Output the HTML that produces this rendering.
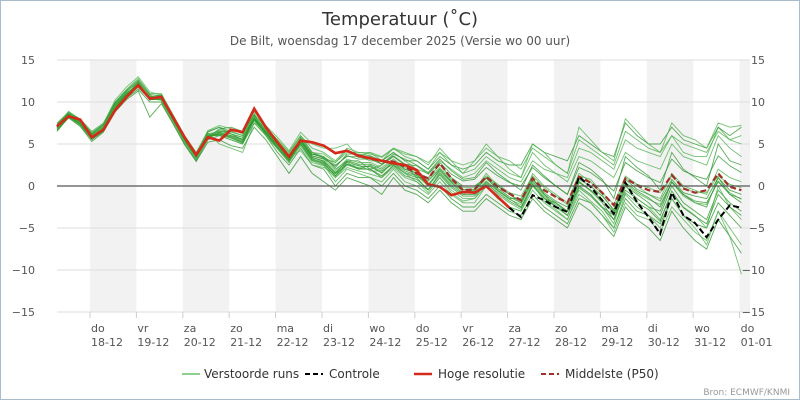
<!DOCTYPE html>
<html><head><meta charset="utf-8"><style>
body{margin:0;background:#fff}
svg{display:block;font-family:"DejaVu Sans","Liberation Sans",sans-serif}
</style></head><body>
<svg id="chart" width="800" height="400" viewBox="0 0 800 400">
<rect x="0.5" y="0.5" width="799" height="399" fill="#fff" stroke="#a9bccb"/>
<text x="400" y="25" text-anchor="middle" font-size="18" fill="#333">Temperatuur (˚C)</text>
<text x="400" y="45" text-anchor="middle" font-size="12" fill="#555">De Bilt, woensdag 17 december 2025 (Versie wo 00 uur)</text>
<g id="bands"></g><g id="grid"></g><g id="members"></g><g id="mainlines"></g><g id="axes"></g>
<g font-size="12" fill="#333">
<g><line x1="182" y1="374" x2="200" y2="374" stroke="#8fcf8f" stroke-width="2"/><text x="204" y="378">Verstoorde runs</text></g>
<g><line x1="305" y1="374" x2="323" y2="374" stroke="#000" stroke-width="2" stroke-dasharray="5,3"/><text x="329" y="378">Controle</text></g>
<g><line x1="414" y1="374" x2="432" y2="374" stroke="#d42a1a" stroke-width="2.5"/><text x="438" y="378">Hoge resolutie</text></g>
<g><line x1="541" y1="374" x2="559" y2="374" stroke="#a0302a" stroke-width="2" stroke-dasharray="5,3"/><text x="565" y="378">Middelste (P50)</text></g>
</g>
<text x="790" y="395" text-anchor="end" font-size="9" fill="#999">Bron: ECMWF/KNMI</text>
</svg>
<script>
const dayNames=["do","vr","za","zo","ma","di","wo","do","vr","za","zo","ma","di","wo","do"];
const dayDates=["18-12","19-12","20-12","21-12","22-12","23-12","24-12","25-12","26-12","27-12","28-12","29-12","30-12","31-12","01-01"];
const yTicks=[-15,-10,-5,0,5,10,15];
const hires=[7.1,8.3,7.9,5.8,6.7,9.0,10.6,12.0,10.4,10.6,8.2,5.8,3.7,5.8,5.4,6.7,6.4,9.2,7.0,5.2,3.5,5.4,5.2,4.8,3.9,4.2,3.6,3.3,3.0,2.7,2.5,1.9,0.2,-0.1,-1.1,-0.7,-0.8,0.0,-1.3,-2.6];
const control=[null,null,null,null,null,null,null,null,null,null,null,null,null,null,null,null,null,null,null,null,null,null,null,null,null,null,null,null,null,null,null,null,null,null,null,null,null,null,null,-2.6,-3.7,-1.1,-1.7,-2.5,-3.1,1.1,-0.1,-1.7,-3.3,0.4,-1.9,-3.7,-5.7,-0.8,-3.5,-4.4,-6.1,-4.0,-2.3,-2.6];
const median=[7.1,8.3,7.9,5.8,6.7,9.0,10.6,12.0,10.4,10.6,8.2,5.8,3.7,5.8,5.4,6.7,6.4,9.2,7.0,5.2,3.5,5.4,5.2,4.8,3.9,4.2,3.6,3.3,3.0,2.9,2.3,1.5,0.9,2.7,0.9,-0.5,-0.4,1.1,-0.1,-0.9,-1.7,0.9,-0.5,-1.3,-2.0,1.1,0.4,-0.8,-2.3,0.9,0.1,-0.5,-0.7,1.3,-0.3,-0.8,-0.5,1.5,-0.1,-0.5];
const m1=[7.5,8.8,8,6.5,7.5,10,11.5,12.8,11,11,8.5,6,4,6.5,7,6.5,6,8.5,7,5.5,4,6,4.5,4,3,4.5,4,4,3.5,4.5,3.5,3,2,4,2.5,1.5,2,3.5,2.5,1.5,1,4,2.5,1.5,1,4.5,4,3,2,5.5,4.5,4,3.5,6,4,3.5,3.5,7,5.5,6];
const m2=[6.5,8.2,7.2,5.5,6.5,9,10.5,11.5,10,10,7.5,5,3,5.5,6,5.5,5,7.5,6,4,2.5,4.5,2.5,2,0,1.5,1,1,0,1.5,0,-0.5,-1.5,0,-1.5,-2.5,-2.5,-1,-2,-3,-3.5,-1,-2.5,-3.5,-4.5,-1.5,-2,-3.5,-5,-1.5,-3,-3.5,-4.5,-1.5,-3.5,-4.5,-5,-2,-3.5,-5];
const m3=[7,8.5,7.5,6,7,9.5,11,12,10.5,10.5,8,5.5,3.5,6,6,5.5,5,8.5,6.5,5,3,5,3,2.5,1,2.5,2,2.5,1.5,3,2,1.5,0,2,0.5,-1,-0.5,1.5,0,-1,-2,1.5,0,-1,-2,1.5,0.5,-1,-3,1,0,-1,-1.5,1.5,0,-0.5,-1,2,1,0.5];
const m4=[6.8,8.3,7.6,6.2,7.2,9.8,11.3,12.3,10.8,10.2,7.8,5.2,3.2,5.8,6.8,7,6.5,8.5,6,4.5,2.8,5.2,3.8,3.5,2,3,3,2,2.5,3.5,2.5,1,1,2.5,1,0,0,1,-0.5,-1.5,-1.5,1,-1,-2.5,-3,0.5,-0.5,-2,-4,0,-1,-2,-3.5,0,-2,-3,-4,-0.5,-2,-3];
const m5=[7.2,8.6,7.8,5.8,6.8,9.3,10.8,12.2,10.6,10.8,8.2,5.8,3.8,6.2,6.5,6.5,6,8,7,5.5,4,6,4,3.5,2.5,3.5,3.5,3,3,4,3,2,1.5,3,2,1,1.5,3,2,1,0.5,3,2,1.5,0.5,3.5,3,2,1,4,3,2.5,2,5,3.5,3,2.5,6,4.5,3.5];
const m6=[7,8.4,7.4,5.9,6.9,9.5,11,11.8,10.4,10.4,8,5.6,3.6,5.8,6.2,5.8,5.2,7.8,6.3,4.8,3.3,5,3.2,2.8,1.2,2.8,2,2,1,2.5,1.5,1,-0.5,1.5,0,-1,-1,0.5,-0.5,-1.5,-2.5,0,-1.5,-2,-3,0,-1,-2.5,-3.5,-0.5,-1.5,-2.5,-3,0.5,-1,-2,-2.5,1,-1,-2];
const m7=[7.4,8.7,7.7,6.3,7.3,9.6,11.2,12.5,10.7,10.6,8.1,5.7,3.7,6.3,5,4.5,4,7.5,6.8,5.2,3.6,5.6,3.6,3.2,1.8,3.2,2.8,2.8,2.2,3.2,2.2,1.8,0.8,2.2,0.8,-0.2,-0.2,1.2,0.2,-0.8,-1.2,1.2,-0.2,-1.2,-2.2,1.2,0.8,-0.8,-2.2,1.2,0.2,-0.2,-0.8,1.2,-0.2,-0.8,-0.8,1.2,0.2,-0.2];
const m8=[7.1,8.5,7.5,6.1,7,9.4,10.9,12.1,10.5,10.5,8,5.5,3.5,6,6.6,6.2,5.8,8.2,6.6,5.1,3.6,5.6,3.8,3.4,2.2,3.8,3.8,3.6,3,4,3,3,2,3.5,2.5,2,2.5,4,3,2.5,2.5,5,4,3.5,3,6,5,4,3.5,7.5,6,5,5,7,5.5,5,4.5,7,6,7];
const m9=[6.9,8.3,7.3,5.7,6.7,9.2,10.7,11.7,10.3,10.3,7.7,5.3,3.3,5.7,6.3,6,5.5,8,6.2,4.7,3,5,3,2.5,0.5,2,1.5,1,0.5,2,0.5,0,-1,0.5,-1,-2,-2,0,-1.5,-2.5,-3,-0.5,-2,-3,-4,-1,-2,-3.5,-5.5,-2,-3.5,-4,-5.5,-2.5,-4,-5.5,-6.5,-3,-5,-7];
const m10=[7,8.6,7.6,6,7,9.7,11.1,12,10.6,10.6,8.1,5.6,3.6,6.1,6.4,6,5.6,8.1,6.6,5,3.4,5.4,3.4,3,1.6,3,2.6,2.6,2,3,2,1.6,0.6,2,0.6,-0.4,-0.4,1,0,-1,-1.8,0.8,-0.8,-1.8,-2.5,0.8,0,-1.2,-2.8,0.8,-0.4,-1,-1.8,0.8,-0.8,-1.2,-1.5,1,-0.5,-1];
const m11=[7.3,8.4,7.4,6,7.1,9.4,11,12.2,10.4,10.2,8.3,5.9,3.9,5.6,6.8,6.2,5.8,8.6,6.9,5.3,3.5,5.3,3.3,2.6,1.4,2.6,2.2,2.4,1.8,2.6,1.6,1.2,0,1.6,0.2,-0.8,-0.8,0.6,-0.6,-1.6,-2.2,0.4,-1.2,-2.2,-3,0.6,-0.6,-1.8,-3,0.2,-0.8,-1.6,-2.2,0.4,-1.2,-2,-2.2,0.6,-0.8,-1.6];
const m12=[6.7,8.2,7.4,5.6,6.6,9.3,10.8,12.4,10.2,10.9,7.9,5.4,3.4,5.9,6.4,6.6,6.4,8.4,6.4,4.9,3.2,5.4,3.6,3.2,2.4,3.6,3.2,3.2,2.6,3.6,2.6,2.4,1.4,2.8,1.4,0.6,0.8,2.2,1.2,0.4,0,2.2,1,0,-1,2.2,1.6,0.6,-0.6,2.8,1.8,1,0.4,3.2,1.8,1.2,0.8,3.6,2.4,1.6];
const m13=[7.2,8.9,7.9,6.4,7.4,10.2,11.8,13,11.2,10.8,8.4,6,3.9,6.6,7.2,6.8,6.2,8.8,7.2,5.8,4.2,6.4,5,4.5,4.5,5,3.5,4,3,4.5,4,3.5,2.5,4.5,3,1.5,3,5,3.5,2,1,5,4,2.5,1.5,7,5.5,4,3,8,6.5,5,4,7.5,6,5.5,4.5,7.5,7,7.2];
const m14=[6.6,8.1,7.1,5.3,6.4,8.8,10.3,11.3,8.2,9.8,7.4,4.9,2.9,5.2,5.5,4.8,4.5,7,5.5,3.5,1.5,3.5,1.5,0.5,-0.5,1,0.5,0,-1,1,-0.5,-1,-2,-0.5,-2,-3,-3,-1.5,-2.5,-3.5,-4,-1.5,-3,-4,-5,-2,-3,-4.5,-6,-2.5,-4,-5,-6.5,-3,-5,-6.5,-7.5,-4,-6,-8];
const m15=[7,8.6,7.7,6.1,7,9.6,11,12.2,10.3,10.5,8,5.6,3.4,6.2,6,6.8,6.3,8.3,6.5,5,3.4,4.2,2.5,2.2,1.5,2.5,2.5,1.8,1.8,2.8,1.5,0.5,-0.5,1,-0.5,-1.5,-1.5,0,-1.5,-2.5,-3,0,-1.5,-2.5,-3.5,0,-1,-2.5,-4.5,0,-1.5,-2.5,-4,-1,-2.5,-3.5,-5,0,-2.5,-4];
const m16=[7.3,8.7,7.9,6.2,7.3,9.9,11.4,12.6,10.9,10.7,8.2,5.7,3.6,6.4,7,6.2,5.5,8,6.4,4.6,3,5.8,4,3.3,2.8,4.3,3.4,3.5,2.6,3.8,3.2,2.5,1.6,3.2,1.8,0.8,1,2.8,1.5,0.5,-0.5,2.5,1.2,0,-1,2.8,2,0.8,-1.5,3.5,2.2,1.2,-0.5,4,2,1,0,5,3,2.5];
const m17=[6.8,8.3,7.5,5.9,6.9,9.4,10.9,11.9,10.4,10.4,7.9,5.3,3.2,5.7,6.3,6,5.4,7.8,6,4.4,2.8,4.8,2.8,2.4,1,2.2,1.8,1.4,1,2.2,1,0.5,-0.8,1,-0.8,-1.8,-1.5,0.5,-1,-2,-2.8,0.2,-1.8,-2.8,-4,-0.5,-1.8,-3,-5,-1,-2.5,-3.5,-5,-1.5,-3.5,-5,-7,-3,-6,-10.5];
const m18=[7.1,8.5,7.6,6,7,9.5,11,12.1,10.5,10.5,8.1,5.6,3.6,6,6.2,5.9,5.3,8,6.4,4.9,3.3,5.2,3.4,2.9,1.5,2.9,2.4,2.3,1.6,2.8,1.8,1.3,0.2,1.8,0.4,-0.6,-0.6,0.9,-0.3,-1.3,-2,0.6,-1,-2,-3,0.4,-0.5,-1.6,-3.3,0.4,-0.6,-1.4,-2.5,0.5,-1,-1.8,-2,0.5,-1,-1.5];
const m19=[7,8.4,7.5,6,7,9.4,10.9,12,10.4,10.5,8,5.6,3.6,6,6.5,6.4,6,8.3,6.8,5.3,3.8,5.8,4,3.8,2.8,4,4,3.8,3.4,4.4,3.8,3.5,2.8,4,3,2.5,3,4.5,3.5,3,2,4.5,3.5,2.5,1.5,5.5,4.5,3.5,2.5,6.5,5.5,4.5,4,6,5,4.5,4,6.5,5.5,5];
const m20=[6.9,8.4,7.4,5.8,6.8,9.3,10.9,12,10.3,10.3,7.9,5.5,3.5,5.9,6.1,5.7,5.1,7.9,6.2,4.6,3.1,5,3.1,2.7,1.2,2.6,2.1,2,1.2,2.4,1.2,0.8,-0.4,1.3,-0.2,-1.2,-1.2,0.3,-0.8,-1.8,-2.6,0.2,-1.4,-2.4,-3.5,-0.2,-1.2,-2.6,-4,-0.8,-2,-2.8,-4.2,-0.6,-2.6,-3.6,-4.5,-1,-2.5,-3.5];
const members=[m1,m2,m3,m4,m5,m6,m7,m8,m9,m10,m11,m12,m13,m14,m15,m16,m17,m18,m19,m20];

const NS="http://www.w3.org/2000/svg";
const PL=57,PR=750,PT=60,PB=312,X0=57,DX=11.6,DAY0=90,DAYW=46.4;
const xAt=i=>X0+i*DX;
const yAt=v=>PT+(15-v)*(PB-PT)/30;
function mk(tag,attrs,parent){const e=document.createElementNS(NS,tag);for(const k in attrs)e.setAttribute(k,attrs[k]);parent.appendChild(e);return e;}
const bands=document.getElementById('bands'),grid=document.getElementById('grid'),axes=document.getElementById('axes');
for(let d=0;d<dayNames.length;d+=2){const x=DAY0+d*DAYW;
 const r=mk('rect',{x:x,y:PT,width:Math.min(DAYW,PR-x),height:PB-PT,fill:'#f2f2f2'},bands);
 
 }
yTicks.forEach(t=>{const y=yAt(t);
 const l=mk('line',{x1:PL,x2:PR,y1:y,y2:y,stroke:t===0?'#555':'#ddd','stroke-width':t===0?1.2:1},t===0?axes:grid);
 
 
 const a=mk('text',{x:35,y:y+4,'text-anchor':'end','font-size':11,fill:'#555'},axes);a.textContent=String(t).replace('-','−');
 
 
 const b=mk('text',{x:765,y:y+4,'text-anchor':'end','font-size':11,fill:'#555'},axes);b.textContent=String(t).replace('-','−');
 
 });
dayNames.forEach((n,d)=>{const x=DAY0+d*DAYW;
 const tk=mk('line',{x1:x,x2:x,y1:PB,y2:PB+6,stroke:'#ccc'},axes);
 
 
 const t1=mk('text',{x:x+1,y:332,'font-size':11,fill:'#555'},axes);t1.textContent=n;
 
 
 const t2=mk('text',{x:x+1,y:346,'font-size':11,fill:'#555'},axes);t2.textContent=dayDates[d];
 
 });
function path(arr){let d='',pen=false;arr.forEach((v,i)=>{if(v==null){pen=false;return;}d+=(pen?'L':'M')+xAt(i).toFixed(1)+','+yAt(v).toFixed(1);pen=true;});return d;}
const mg=document.getElementById('members');
members.forEach((m,k)=>{const p=mk('path',{d:path(m),fill:'none',stroke:k%2?'#2e962e':'#4fb34f','stroke-width':0.9,'stroke-opacity':0.8},mg);
 
 });
const ml=document.getElementById('mainlines');
const pm=mk('path',{d:path(median),fill:'none',stroke:'#a0302a','stroke-width':2.2,'stroke-dasharray':'6,3'},ml);


const pc=mk('path',{d:path(control),fill:'none',stroke:'#000','stroke-width':2,'stroke-dasharray':'6,3'},ml);


const ph=mk('path',{d:path(hires),fill:'none',stroke:'#d42a1a','stroke-width':2.6},ml);


</script>
</body></html>
